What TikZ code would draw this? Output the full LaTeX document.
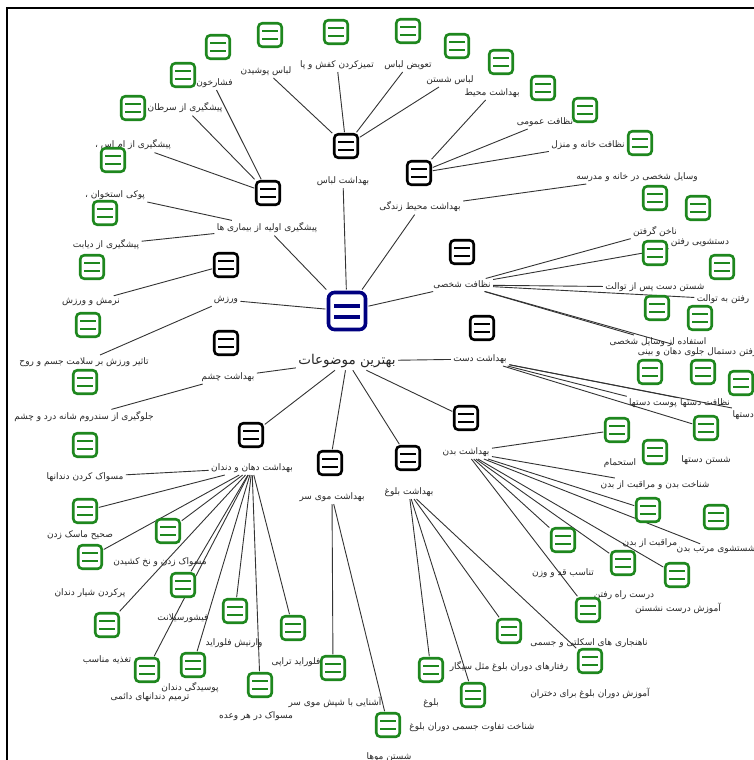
\documentclass[tikz,border=0pt]{standalone}
\usepackage{fontspec}
\setmainfont{DejaVu Sans}
\newfontfamily\arfont[Script=Arabic]{DejaVu Sans}
\TeXXeTstate=1
\usetikzlibrary{backgrounds}
\definecolor{gr}{RGB}{30,135,30}
\definecolor{nv}{RGB}{0,0,128}
\newcommand\gn[6]{\node[gi] (#1I) at (#2,#3) {}; \node[lbl] (#1L) at (#4,#5) {#6};}
\newcommand\bn[6]{\node[bi] (#1I) at (#2,#3) {}; \node[lbl] (#1L) at (#4,#5) {#6};}
\begin{document}
\begin{tikzpicture}[x=1pt,y=-1pt,
  icon/.style={draw=#1, line width=2.6pt, rounded corners=4pt, minimum size=23.5pt, inner sep=0pt, fill=white, outer sep=2pt,
    path picture={\foreach \yy in {-3.9,3.9}{\draw[#1, line width=2.6pt] ([xshift=-8pt,yshift=\yy pt]path picture bounding box.center) -- ++(16pt,0pt);}}},
  gi/.style={icon=gr}, bi/.style={icon=black},
  ci/.style={draw=nv, line width=3.6pt, rounded corners=6pt, minimum size=37pt, inner sep=0pt, fill=white, outer sep=3pt,
    path picture={\foreach \yy in {-5.5,5.5}{\draw[nv, line width=4pt] ([xshift=-13pt,yshift=\yy pt]path picture bounding box.center) -- ++(26pt,0pt);}}},
  lbl/.style={inner sep=1pt, outer sep=1.5pt, font=\arfont\fontsize{9}{10}\selectfont, text=black!85},
  con/.style={line width=0.9pt, black!80}]
\useasboundingbox (0,0) rectangle (754,760);
\draw[line width=1.6pt] (7,770) -- (7,8) -- (770,8);
% central
\node[ci] (cI) at (347,311) {};
\node[lbl, font=\arfont\fontsize{13.5}{15}\selectfont] (cL) at (347,361) {\beginR بهترین موضوعات\endR};
% level 1
\bn{labas}{346}{146}{343}{181}{\beginR بهداشت لباس\endR}
\bn{mohit}{419}{173}{420}{207}{\beginR بهداشت محیط زندگی\endR}
\bn{pish}{268}{193}{267}{228}{\beginR پیشگیری اولیه از بیماری ها\endR}
\bn{varz}{226}{265}{226}{300}{\beginR ورزش\endR}
\bn{chesh}{226}{343}{228}{377}{\beginR بهداشت چشم\endR}
\bn{nez}{462}{252}{462}{285}{\beginR نظافت شخصی\endR}
\bn{dast}{482}{328}{480}{359}{\beginR بهداشت دست\endR}
\bn{badan}{466}{418}{466}{452}{\beginR بهداشت بدن\endR}
\bn{bol}{408}{458}{409}{492}{\beginR بهداشت بلوغ\endR}
\bn{muy}{330}{463}{332}{497}{\beginR بهداشت موی سر\endR}
\bn{dah}{251}{435}{252}{468}{\beginR بهداشت دهان و دندان\endR}
% labas
\gn{La}{270}{35}{266}{71}{\beginR لباس پوشیدن\endR}
\gn{Lb}{336}{32}{337}{65}{\beginR تمیزکردن کفش و پا\endR}
\gn{Lc}{408}{31}{408}{65}{\beginR تعویض لباس\endR}
\gn{Ld}{457}{46}{450}{80}{\beginR لباس شستن\endR}
% mohit
\gn{Ma}{501}{62}{492}{93}{\beginR بهداشت محیط\endR}
\gn{Mb}{543}{88}{545}{122}{\beginR نظافت عمومی\endR}
\gn{Mc}{585}{110}{588}{145}{\beginR نظافت خانه و منزل\endR}
\gn{Md}{640}{143}{637}{177}{\beginR وسایل شخصی در خانه و مدرسه\endR}
% pish
\gn{Pa}{218}{47}{213}{83}{\beginR فشارخون.\endR}
\gn{Pb}{183}{75}{185}{108}{\beginR پیشگیری از سرطان\endR}
\gn{Pc}{133}{108}{133}{145}{\beginR پیشگیری از ام اس ،\endR}
\gn{Pd}{113}{160}{115}{195}{\beginR پوکی استخوان ،\endR}
\gn{Pe}{105}{213}{106}{245}{\beginR پیشگیری از دیابت\endR}
% varz
\gn{Va}{92}{267}{91}{302}{\beginR نرمش و ورزش\endR}
\gn{Vb}{88}{325}{84}{362}{\beginR تاثیر ورزش بر سلامت جسم و روح\endR}
% chesh
\gn{Ea}{85}{382}{84}{417}{\beginR جلوگیری از سندروم شانه درد و چشم\endR}
% dah
\gn{Da}{85}{445}{85}{477}{\beginR مسواک کردن دندانها\endR}
\gn{Db}{85}{511}{80}{535}{\beginR صحیح ماسک زدن\endR}
\gn{Dc}{90}{557}{90}{593}{\beginR پرکردن شیار دندان\endR}
\gn{Dd}{168}{531}{160}{562}{\beginR مسواک زدن و نخ کشیدن\endR}
\gn{De}{107}{625}{107}{660}{\beginR تغذیه مناسب\endR}
\gn{Df}{183}{585}{183}{618}{\beginR فیشورسیلانت\endR}
\gn{Dg}{147}{670}{150}{697}{\beginR ترمیم دندانهای دائمی\endR}
\gn{Dh}{193}{665}{190}{688}{\beginR پوسیدگی دندان\endR}
\gn{Di}{235}{611}{234}{643}{\beginR وارنیش فلوراید\endR}
\gn{Dj}{260}{685}{256}{716}{\beginR مسواک در هر وعده\endR}
\gn{Dk}{293}{628}{296}{662}{\beginR فلوراید تراپی\endR}
% muy
\gn{Sa}{333}{668}{335}{702}{\beginR آشنایی با شپش موی سر\endR}
\gn{Sb}{388}{725}{389}{757}{\beginR شستن موها\endR}
% bol
\gn{Ba}{431}{670}{431}{703}{\beginR بلوغ\endR}
\gn{Bb}{473}{695}{472}{727}{\beginR شناخت تفاوت جسمی دوران بلوغ\endR}
\gn{Bc}{509}{631}{509}{667}{\beginR رفتارهای دوران بلوغ مثل سیگار\endR}
\gn{Bd}{590}{661}{590}{693}{\beginR آموزش دوران بلوغ برای دختران\endR}
% badan
\gn{Ta}{617}{430}{620}{463}{\beginR استحمام\endR}
\gn{Tb}{655}{452}{655}{485}{\beginR شناخت بدن و مراقبت از بدن\endR}
\gn{Tc}{648}{510}{650}{543}{\beginR مراقبت از بدن\endR}
\gn{Td}{716}{517}{716}{550}{\beginR شستشوی مرتب بدن\endR}
\gn{Te}{563}{540}{563}{573}{\beginR تناسب قد و وزن\endR}
\gn{Tf}{623}{563}{624}{595}{\beginR درست راه رفتن\endR}
\gn{Tg}{677}{575}{678}{608}{\beginR آموزش درست نشستن\endR}
\gn{Th}{588}{610}{589}{643}{\beginR ناهنجاری های اسکلتی و جسمی\endR}
% dast
\gn{Ha}{650}{372}{653}{403}{\beginR پوست دستها\endR}
\gn{Hb}{703}{372}{705}{403}{\beginR نظافت دستها\endR}
\gn{Hc}{741}{383}{768}{415}{\beginR شستن کامل دستها\endR}
\gn{Hd}{706}{428}{706}{460}{\beginR شستن دستها\endR}
% nez
\gn{Na}{655}{198}{655}{232}{\beginR ناخن گرفتن\endR}
\gn{Nb}{698}{208}{700}{243}{\beginR دستشویی رفتن\endR}
\gn{Nc}{655}{253}{655}{287}{\beginR شستن دست پس از توالت\endR}
\gn{Nd}{722}{267}{723}{299}{\beginR رفتن به توالت\endR}
\gn{Ne}{657}{308}{658}{342}{\beginR استفاده از وسایل شخصی\endR}
\gn{Nf}{700}{318}{700}{352}{\beginR گرفتن دستمال جلوی دهان و بینی\endR}
% connectors
\begin{scope}[on background layer]
\draw[con] (cI) -- (labasL);
\draw[con] (cI) -- (pishL);
\draw[con] (cI) -- (mohitL);
\draw[con] (cI) -- (nezL);
\draw[con] (cI) -- (varzL);
\draw[con] (cL) -- (cheshL);
\draw[con] (cL) -- (dastL);
\draw[con] (cL) -- (dahI);
\draw[con] (cL) -- (muyI);
\draw[con] (cL) -- (bolI);
\draw[con] (cL) -- (badanI);
\foreach \c in {La,Lb,Lc,Ld} \draw[con] (labasI) -- (\c L);
\foreach \c in {Ma,Mb,Mc} \draw[con] (mohitI) -- (\c L);
\draw[con] (mohitL) -- (MdL);
\foreach \c in {Pa,Pb,Pc} \draw[con] (pishI) -- (\c L);
\foreach \c in {Pd,Pe} \draw[con] (pishL) -- (\c L);
\draw[con] (varzI) -- (VaL);
\draw[con] (varzL) -- (VbL);
\draw[con] (cheshL) -- (EaL);
\draw[con] (dahL) -- (DaL);
\foreach \c in {Db,Dc,Dd,De,Df,Dg,Dh,Di,Dj,Dk} \draw[con] (dahL) -- (\c I);
\foreach \c in {Sa,Sb} \draw[con] (muyL) -- (\c I);
\foreach \c in {Ba,Bb,Bc,Bd} \draw[con] (bolL) -- (\c I);
\foreach \c in {Ta,Tc,Te,Tf,Tg,Th} \draw[con] (badanL) -- (\c I);
\foreach \c in {Tb,Td} \draw[con] (badanL) -- (\c L);
\foreach \c in {Ha,Hb,Hc} \draw[con] (dastL) -- (\c L);
\draw[con] (dastL) -- (HdI);
\foreach \c in {Na,Nb,Nc,Nd,Ne,Nf} \draw[con] (nezL) -- (\c L);
\end{scope}
\end{tikzpicture}
\end{document}
